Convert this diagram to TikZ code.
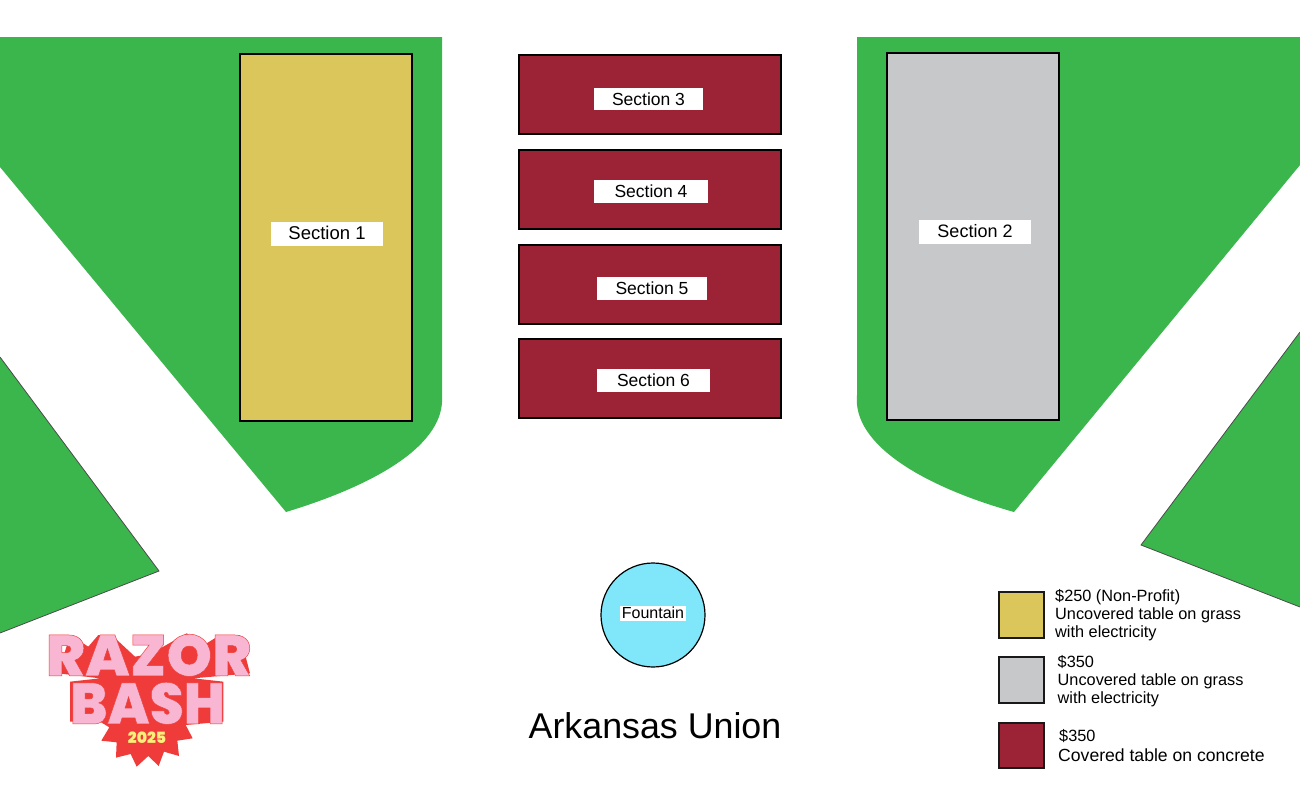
\documentclass[tikz,border=0pt]{standalone}
\usepackage{fontspec}
\setmainfont{Liberation Sans}
\newfontfamily\logofont{Poppins}[UprightFont=* Black,UprightFeatures={FakeBold=0.8}]
\newfontfamily\yearfont{Poppins}[UprightFont=* Black]
\definecolor{grass}{HTML}{3BB64D}
\definecolor{sand}{HTML}{DAC65A}
\definecolor{stone}{HTML}{C7C8CA}
\definecolor{brick}{HTML}{9B2335}
\definecolor{pool}{HTML}{7FE7F9}
\definecolor{logored}{HTML}{EF3B39}
\definecolor{logopink}{HTML}{F9B6D3}
\definecolor{logoyel}{HTML}{FBEE7A}
\tikzset{
  x=1pt,y=-1pt,
  lawn/.style={fill=grass,draw=none},
  edged/.style={fill=grass,draw=black!70,line width=0.8pt,line join=miter},
  area/.style={draw=black,line width=1.8pt,outer sep=0pt,inner sep=0pt,anchor=north west},
  tag/.style={fill=white,inner sep=0pt,font=\fontsize{17.5}{20}\selectfont},
  keybox/.style={draw=black!90,line width=2.4pt,outer sep=0pt,inner sep=0pt,anchor=north west},
  keytext/.style={anchor=north west,inner sep=0pt,align=left,font=\fontsize{16.3}{18}\selectfont},
  logotext/.style={anchor=north west,inner sep=0pt,text=logopink},
}
\newcommand{\logoword}[2]{\scalebox{#1}[1]{\logofont\fontsize{58}{58}\selectfont\special{pdf:code 0.94 0.23 0.22 RG}#2}}
\newcommand{\uplift}[1]{\raisebox{1.5pt}{#1}}
\begin{document}
\begin{tikzpicture}
\useasboundingbox (0,0) rectangle (1300,795);
\fill[white] (0,0) rectangle (1300,795);
% lawns
\path[lawn] (0,37) -- (442,37) -- (442,395) .. controls (446,445) and (375,485) .. (286,512) -- (0,167) -- cycle;
\path[lawn] (857,37) -- (1300,37) -- (1300,165) -- (1014,512) .. controls (925,487) and (852,445) .. (857,395) -- cycle;
\path[edged] (0,357) -- (159,571) -- (0,633);
\path[edged] (1300,332) -- (1141,545) -- (1300,607);
% sections
\node[area,fill=sand,minimum width=172pt,minimum height=367pt] (s1) at (240,54) {};
\node[area,fill=stone,minimum width=172pt,minimum height=367pt] (s2) at (887,53) {};
\node[area,fill=brick,minimum width=262pt,minimum height=79pt] (s3) at (519,55) {};
\node[area,fill=brick,minimum width=262pt,minimum height=79pt] (s4) at (519,150) {};
\node[area,fill=brick,minimum width=262pt,minimum height=79pt] (s5) at (519,245) {};
\node[area,fill=brick,minimum width=262pt,minimum height=79pt] (s6) at (519,339) {};
\node[tag,minimum width=112pt,minimum height=24pt,font=\fontsize{18.5}{20}\selectfont] (l1) at (327,234) {\uplift{Section 1}};
\node[tag,minimum width=112pt,minimum height=24pt,font=\fontsize{18}{20}\selectfont] (l2) at (975,232) {\uplift{Section 2}};
\node[tag,minimum width=109pt,minimum height=22pt] (l3) at (648.5,99) {Section 3};
\node[tag,minimum width=114pt,minimum height=23pt] (l4) at (651,191.5) {Section 4};
\node[tag,minimum width=110pt,minimum height=23pt] (l5) at (652,288.5) {\raisebox{1pt}{Section 5}};
\node[tag,minimum width=113pt,minimum height=23pt] (l6) at (653.5,380.5) {Section 6};
% fountain
\node[circle,draw=black,line width=1.2pt,fill=pool,minimum size=104pt,inner sep=0pt,outer sep=0pt] (f) at (653,615) {};
\node[fill=white,inner sep=0pt,minimum width=66pt,minimum height=15pt,font=\fontsize{16}{18}\selectfont] (fl) at (653,613) {Fountain};
\node[inner sep=0pt,font=\fontsize{35.8}{40}\selectfont] (union) at (655,726) {Arkansas Union};
% legend
\node[keybox,fill=sand,minimum width=45pt,minimum height=46pt] (k1) at (999,592) {};
\node[keybox,fill=stone,minimum width=45pt,minimum height=46pt] (k2) at (999,657) {};
\node[keybox,fill=brick,minimum width=45pt,minimum height=45pt] (k3) at (999,723) {};
\node[keytext] (t1) at (1055,589.5) {\$250 (Non-Profit)\\Uncovered table on grass\\with electricity};
\node[keytext] (t2) at (1057.5,655.5) {\$350\\Uncovered table on grass\\with electricity};
\node[keytext] (t3a) at (1059,729.5) {\$350};
\node[keytext,font=\fontsize{17.6}{20}\selectfont] (t3b) at (1058,749) {Covered table on concrete};
% logo backdrop, traced
\begin{scope}[x=0.33333pt,y=-0.33333pt,shift={(60,1830)}]
\fill[logored] (115,190) -- (150,75) -- (205,110) -- (235,75) -- (275,75) -- (345,140) -- (400,130) -- (430,110) -- (500,70) -- (560,100) -- (600,75) -- (660,75) -- (690,190) -- (520,205) -- (610,215) -- (610,335) -- (497,345) -- (518,385) -- (472,392) -- (477,438) -- (432,425) -- (416,468) -- (385,438) -- (350,470) -- (332,432) -- (288,443) -- (290,397) -- (244,392) -- (268,352) -- (240,335) -- (150,335) -- (150,215) -- (240,205) -- cycle;
\end{scope}
\node[logotext] (razor) at (46,634) {\logoword{1}{RAZOR}};
\node[logotext] (bash) at (70,682) {\logoword{0.94}{BASH}};
\node[inner sep=0pt,text=logoyel,font=\yearfont\fontsize{15.5}{16}\selectfont] (yr) at (147,737.5) {2025};
\end{tikzpicture}
\end{document}
